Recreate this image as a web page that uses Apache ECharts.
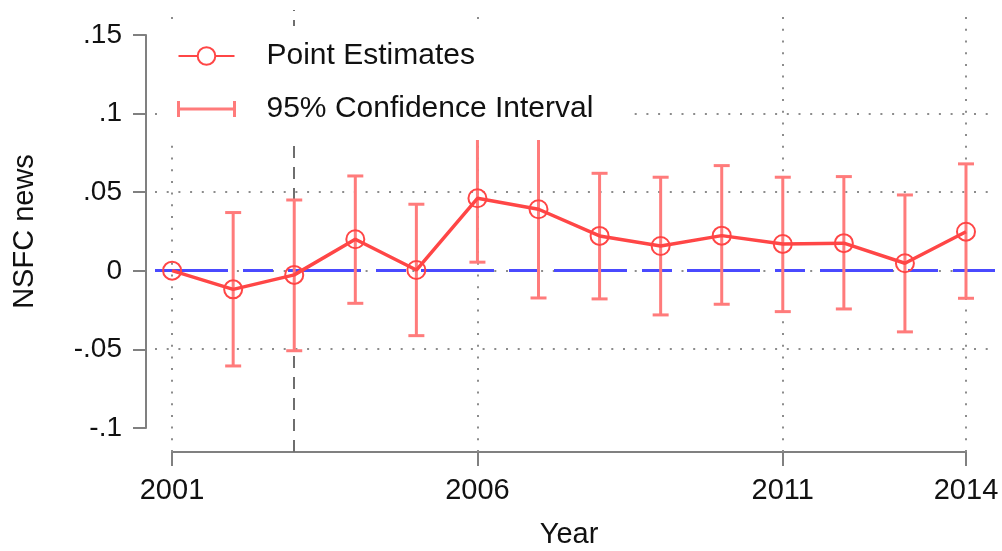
<!DOCTYPE html>
<html><head><meta charset="utf-8">
<script src="https://cdn.jsdelivr.net/npm/echarts@6/dist/echarts.min.js"></script>
<style>html,body{margin:0;padding:0;background:#fff}#c{width:1002px;height:551px}</style>
</head><body><div id="c"></div>
<script>
// ---- data ----
const years = [2001,2002,2003,2004,2005,2006,2007,2008,2009,2010,2011,2012,2013,2014];
const pointEstimates = [0, -0.0119, -0.0027, 0.0200, 0.0004, 0.0461, 0.0391, 0.0221, 0.0157, 0.0223, 0.0170, 0.0175, 0.0047, 0.0248];
const ciLower = [null, -0.0607, -0.0510, -0.0208, -0.0414, 0.0054, -0.0174, -0.0180, -0.0282, -0.0214, -0.0261, -0.0244, -0.0390, -0.0176];
const ciUpper = [null, 0.0370, 0.0450, 0.0603, 0.0423, 0.0870, 0.0956, 0.0620, 0.0595, 0.0669, 0.0595, 0.0599, 0.0482, 0.0680];
const xTickValues = [2001, 2006, 2011, 2014];
const yTickValues = [-0.1, -0.05, 0, 0.05, 0.1, 0.15];
const yGridValues = [-0.05, 0, 0.05, 0.1];
const referenceYear = 2003;
const seriesNames = ['Point Estimates', '95% Confidence Interval'];
const xTitle = 'Year';
const yTitle = 'NSFC news';

// ---- styles ----
const PT_COLOR = '#ff4646';
const CI_COLOR = '#ff7b7b';
const GRID_COLOR = '#8c8c8c';
const AXIS_COLOR = '#808080';
const FONT = '"Liberation Sans", Arial, Helvetica, sans-serif';

function fmt(v) {
  if (Math.abs(v) < 1e-9) return '0';
  const s = String(+v.toFixed(2));
  return s.replace(/^(-?)0\./, '$1.');
}

const ciData = [];
years.forEach((y, i) => { if (ciLower[i] != null) ciData.push([y, ciLower[i], ciUpper[i]]); });
const pointData = years.map((y, i) => [y, pointEstimates[i]]);

const dotted = { color: GRID_COLOR, width: 2, type: [2, 9.7] };
const markData = [];
yGridValues.forEach(v => markData.push({ yAxis: v, lineStyle: dotted }));
xTickValues.forEach(v => markData.push({ xAxis: v, lineStyle: dotted }));
markData.push({ xAxis: referenceYear, lineStyle: { color: '#6e6e6e', width: 2, type: [12, 9] } });
markData.push({ yAxis: 0, lineStyle: { color: '#4a4aff', width: 3, type: [73, 15, 30, 15] } });

const chart = echarts.init(document.getElementById('c'), null, { renderer: 'canvas' });
chart.setOption({
  animation: false,
  backgroundColor: '#fff',
  textStyle: { fontFamily: FONT },
  grid: [
    { left: 155, right: 7, top: 10, bottom: 99 },
    { left: 172, right: 36, top: 300, bottom: 99 },
    { left: 146, top: 35, bottom: 123, width: 10 }
  ],
  xAxis: [
    { gridIndex: 0, type: 'value', min: 2000.72, max: 2014.475, show: false, splitLine: { show: false } },
    { gridIndex: 1, type: 'value', min: 2001, max: 2014, position: 'bottom',
      axisLine: { show: true, lineStyle: { color: AXIS_COLOR, width: 2 } },
      axisTick: { show: true, length: 14, lineStyle: { color: AXIS_COLOR, width: 2 }, customValues: xTickValues },
      axisLabel: { show: true, margin: 24, fontSize: 29, color: '#111', fontFamily: FONT, customValues: xTickValues, formatter: v => String(v) },
      splitLine: { show: false },
      name: xTitle, nameLocation: 'middle', nameGap: 68,
      nameTextStyle: { fontSize: 29, color: '#111', fontFamily: FONT } },
    { gridIndex: 2, type: 'value', show: false }
  ],
  yAxis: [
    { gridIndex: 0, type: 'value', min: -0.1155, max: 0.166, show: false, splitLine: { show: false } },
    { gridIndex: 1, type: 'value', show: false },
    { gridIndex: 2, type: 'value', min: -0.1, max: 0.15, interval: 0.05, position: 'left',
      axisLine: { show: true, lineStyle: { color: AXIS_COLOR, width: 2 } },
      axisTick: { show: true, length: 13, lineStyle: { color: AXIS_COLOR, width: 2 }, customValues: yTickValues },
      axisLabel: { show: true, margin: 24, fontSize: 28, color: '#111', fontFamily: FONT, customValues: yTickValues, formatter: fmt },
      splitLine: { show: false },
      name: yTitle, nameLocation: 'middle', nameGap: 107, nameRotate: 90,
      nameTextStyle: { fontSize: 29, color: '#111', fontFamily: FONT } }
  ],
  legend: {
    orient: 'vertical', left: 165, top: 26,
    padding: [15, 34, 16, 12],
    backgroundColor: '#fff',
    itemWidth: 56, itemHeight: 22, itemGap: 23,
    textStyle: { fontSize: 30, color: '#111', fontFamily: FONT, lineHeight: 30, padding: [0, 0, 0, 27] },
    data: [
      { name: seriesNames[0], itemStyle: { color: '#fff', borderColor: PT_COLOR, borderWidth: 2 } },
      { name: seriesNames[1], icon: 'path://M0,0 L0,16 M0,8 L56,8 M56,0 L56,16',
        itemStyle: { color: 'transparent', borderColor: CI_COLOR, borderWidth: 3 } }
    ]
  },
  series: [
    {
      name: seriesNames[1], type: 'custom', xAxisIndex: 0, yAxisIndex: 0, z: 3,
      data: ciData, encode: { x: 0, y: [1, 2] },
      itemStyle: { color: CI_COLOR },
      renderItem: function (params, api) {
        const x = api.value(0);
        const lo = api.coord([x, api.value(1)]);
        const hi = api.coord([x, api.value(2)]);
        const w = 8;
        const st = { stroke: CI_COLOR, lineWidth: 3, fill: null };
        return { type: 'group', children: [
          { type: 'line', shape: { x1: lo[0], y1: lo[1], x2: hi[0], y2: hi[1] }, style: st },
          { type: 'line', shape: { x1: lo[0] - w, y1: lo[1], x2: lo[0] + w, y2: lo[1] }, style: st },
          { type: 'line', shape: { x1: hi[0] - w, y1: hi[1], x2: hi[0] + w, y2: hi[1] }, style: st }
        ] };
      }
    },
    {
      name: seriesNames[0], type: 'line', xAxisIndex: 0, yAxisIndex: 0, z: 4,
      data: pointData,
      symbol: 'circle', symbolSize: 18,
      itemStyle: { color: 'transparent', borderColor: PT_COLOR, borderWidth: 2 },
      lineStyle: { color: PT_COLOR, width: 3.5 },
      markLine: {
        silent: true, symbol: ['none', 'none'], label: { show: false }, z: 2,
        data: markData
      }
    }
  ]
});
</script></body></html>
